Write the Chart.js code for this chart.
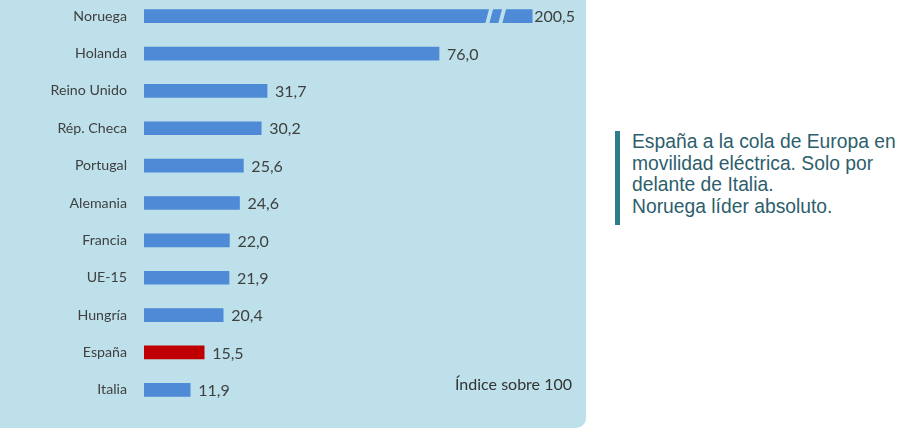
<!DOCTYPE html>
<html>
<head>
<meta charset="utf-8">
<script src="https://cdn.jsdelivr.net/npm/chart.js@4"></script>
<style>
  body { margin: 0; background: #fff; width: 900px; height: 433px; overflow: hidden; position: relative; }
  #panel { position: absolute; left: 0; top: 0; width: 586px; height: 428px; background: #bde0ea; border-bottom-right-radius: 10px; overflow: hidden; }
  #wrap { position: absolute; left: 0; top: -28px; width: 586px; height: 462px; }
  #note { position: absolute; left: 455px; top: 374px; font: 16px Lato, sans-serif; color: #333; }
  #side { position: absolute; left: 615px; top: 131px; border-left: 5px solid #2e7c8c; padding: 0 0 7px 12px; font: 19.3px "Liberation Sans", Arial, sans-serif; line-height: 21.7px; color: #2d5e6c; }
</style>
</head>
<body>
<div id="panel">
  <div id="wrap"><canvas id="myBarChart"></canvas></div>
  <div id="note">Índice sobre 100</div>
</div>
<div id="side">España a la cola de Europa en<br>movilidad eléctrica. Solo por<br>delante de Italia.<br>Noruega líder absoluto.</div>
<script>
const countries = ["Noruega", "Holanda", "Reino Unido", "Rép. Checa", "Portugal", "Alemania", "Francia", "UE-15", "Hungría", "España", "Italia"];
const values = [200.5, 76.0, 31.7, 30.2, 25.6, 24.6, 22.0, 21.9, 20.4, 15.5, 11.9];
const highlight = "España";
const axisBreak = 100; // bars beyond this are cut
const xMax = 110;

const panelColor = "#bde0ea";
const shown = values.map(v => Math.min(v, axisBreak));
const colors = countries.map(c => c === highlight ? "#c00000" : "#4f8ad6");

const fmt = v => v.toFixed(1).replace(".", ",");

// value labels + break marks
const barExtras = {
  id: "barExtras",
  afterDatasetsDraw(chart) {
    const ctx = chart.ctx;
    const meta = chart.getDatasetMeta(0);
    ctx.save();
    ctx.font = "16px Lato, sans-serif";
    ctx.fillStyle = "#404040";
    ctx.textBaseline = "middle";
    meta.data.forEach((bar, i) => {
      const broken = values[i] > axisBreak;
      if (broken) {
        const top = bar.y - bar.height / 2 - 1;
        const bot = bar.y + bar.height / 2 + 1;
        ctx.save();
        ctx.fillStyle = panelColor;
        [45, 32].forEach(off => {
          const x0 = bar.x - off;
          ctx.beginPath();
          ctx.moveTo(x0 - 2, bot);
          ctx.lineTo(x0 + 2, bot);
          ctx.lineTo(x0 + 6, top);
          ctx.lineTo(x0 + 2, top);
          ctx.closePath();
          ctx.fill();
        });
        ctx.restore();
      }
      ctx.fillText(fmt(values[i]), bar.x + (broken ? 2 : 8), bar.y + 1);
    });
    ctx.restore();
  }
};

new Chart(document.getElementById("myBarChart"), {
  type: "bar",
  data: {
    labels: countries,
    datasets: [
      {
        data: shown,
        backgroundColor: colors,
        barThickness: 13,
        borderWidth: 0,
      },
    ],
  },
  options: {
    indexAxis: "y",
    responsive: true,
    maintainAspectRatio: false,
    animation: false,
    layout: { padding: { right: 15 } },
    plugins: {
      legend: { display: false },
      tooltip: { enabled: false },
    },
    scales: {
      x: {
        display: false,
        min: 0,
        max: xMax,
      },
      y: {
        grid: { display: false, drawTicks: false },
        border: { display: false },
        afterFit(scale) { scale.width = 144; },
        ticks: {
          color: "#404040",
          padding: 17,
          font: { family: "Lato", size: 14.2 },
        },
      },
    },
  },
  plugins: [barExtras],
});
</script>
</body>
</html>
